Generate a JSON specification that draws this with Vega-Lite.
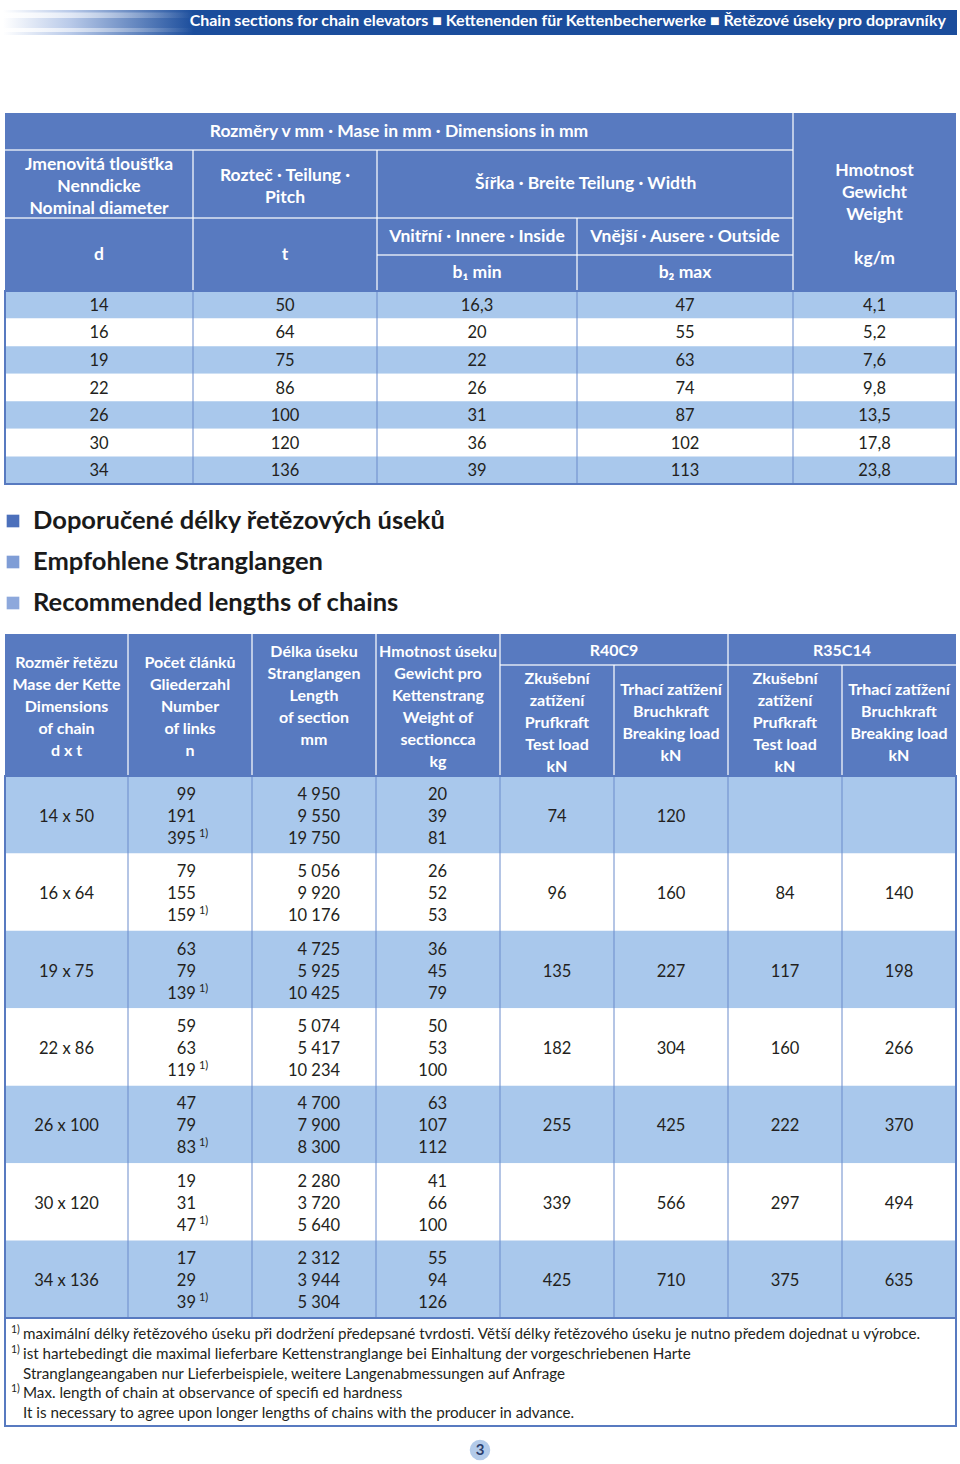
{
  "$schema": "https://vega.github.io/schema/vega-lite/v6.json",
  "padding": 0,
  "autosize": {"type": "pad"},
  "spacing": 0,
  "bounds": "flush",
  "background": "#ffffff",
  "config": {"view": {"stroke": null}, "axis": {"disable": true}, "legend": {"disable": true}, "font": "Lato"},
  "resolve": {"scale": {"x": "independent", "y": "independent", "color": "independent"}},
  "datasets": {
    "top": [
      {"d": "14", "t": "50", "b1": "16,3", "b2": "47", "kg": "4,1"},
      {"d": "16", "t": "64", "b1": "20", "b2": "55", "kg": "5,2"},
      {"d": "19", "t": "75", "b1": "22", "b2": "63", "kg": "7,6"},
      {"d": "22", "t": "86", "b1": "26", "b2": "74", "kg": "9,8"},
      {"d": "26", "t": "100", "b1": "31", "b2": "87", "kg": "13,5"},
      {"d": "30", "t": "120", "b1": "36", "b2": "102", "kg": "17,8"},
      {"d": "34", "t": "136", "b1": "39", "b2": "113", "kg": "23,8"}
    ],
    "topcols": [
      {"key": "d", "c": 0.5}, {"key": "t", "c": 1.5}, {"key": "b1", "c": 2.5}, {"key": "b2", "c": 3.5}, {"key": "kg", "c": 4.5}
    ],
    "topHead": [
      {"label": "Rozměry v mm ∙ Mase in mm ∙ Dimensions in mm", "cx": 2.11, "cy": 0.5},
      {"label": "Jmenovitá tloušťka\nNenndicke\nNominal diameter", "cx": 0.5, "cy": 1.22},
      {"label": "Rozteč ∙ Teilung ∙\nPitch", "cx": 1.5, "cy": 1.38},
      {"label": "Šířka ∙ Breite Teilung ∙ Width", "cx": 3.04, "cy": 1.5},
      {"label": "Hmotnost\nGewicht\nWeight", "cx": 4.5, "cy": 1.309},
      {"label": "kg/m", "cx": 4.5, "cy": 3.11},
      {"label": "d", "cx": 0.5, "cy": 3},
      {"label": "t", "cx": 1.5, "cy": 3},
      {"label": "Vnitřní ∙ Innere ∙ Inside", "cx": 2.5, "cy": 2.5},
      {"label": "Vnější ∙ Ausere ∙ Outside", "cx": 3.5, "cy": 2.5},
      {"label": "b₁ min", "cx": 2.5, "cy": 3.5},
      {"label": "b₂ max", "cx": 3.5, "cy": 3.5}
    ],
    "topHeadH": [{"c0": 0, "c1": 4, "r": 1}, {"c0": 0, "c1": 4, "r": 2}, {"c0": 2, "c1": 4, "r": 3}],
    "topHeadV": [{"c": 1, "r0": 1, "r1": 4}, {"c": 2, "r0": 1, "r1": 4}, {"c": 3, "r0": 2, "r1": 4}, {"c": 4, "r0": 0, "r1": 4}],
    "headings": [
      {"i": 1, "t": "Doporučené délky řetězových úseků"},
      {"i": 2, "t": "Empfohlene Stranglangen"},
      {"i": 3, "t": "Recommended lengths of chains"}
    ],
    "botHead": [
      {"label": "Rozměr řetězu\nMase der Kette\nDimensions\nof chain\nd x t", "cx": 0.5, "cy": 0.935},
      {"label": "Počet článků\nGliederzahl\nNumber\nof links\nn", "cx": 1.5, "cy": 0.935},
      {"label": "Délka úseku\nStranglangen\nLength\nof section\nmm", "cx": 2.5, "cy": 0.581},
      {"label": "Hmotnost úseku\nGewicht pro\nKettenstrang\nWeight of\nsectioncca\nkg", "cx": 3.5, "cy": 0.581},
      {"label": "R40C9", "cx": 5, "cy": 0.548},
      {"label": "R35C14", "cx": 7, "cy": 0.548},
      {"label": "Zkušební\nzatížení\nPrufkraft\nTest load\nkN", "cx": 4.5, "cy": 1.126},
      {"label": "Trhací zatížení\nBruchkraft\nBreaking load\nkN", "cx": 5.5, "cy": 1.225},
      {"label": "Zkušební\nzatížení\nPrufkraft\nTest load\nkN", "cx": 6.5, "cy": 1.126},
      {"label": "Trhací zatížení\nBruchkraft\nBreaking load\nkN", "cx": 7.5, "cy": 1.225}
    ],
    "botHeadH": [{"c0": 4, "c1": 8, "r": 1}],
    "botHeadV": [
      {"c": 1, "r0": 0, "r1": 2}, {"c": 2, "r0": 0, "r1": 2}, {"c": 3, "r0": 0, "r1": 2}, {"c": 4, "r0": 0, "r1": 2},
      {"c": 6, "r0": 0, "r1": 2}, {"c": 5, "r0": 1, "r1": 2}, {"c": 7, "r0": 1, "r1": 2}
    ],
    "chains": [
      {"chain": "14 x 50", "tl40": "74", "bl40": "120", "tl35": "", "bl35": ""},
      {"chain": "16 x 64", "tl40": "96", "bl40": "160", "tl35": "84", "bl35": "140"},
      {"chain": "19 x 75", "tl40": "135", "bl40": "227", "tl35": "117", "bl35": "198"},
      {"chain": "22 x 86", "tl40": "182", "bl40": "304", "tl35": "160", "bl35": "266"},
      {"chain": "26 x 100", "tl40": "255", "bl40": "425", "tl35": "222", "bl35": "370"},
      {"chain": "30 x 120", "tl40": "339", "bl40": "566", "tl35": "297", "bl35": "494"},
      {"chain": "34 x 136", "tl40": "425", "bl40": "710", "tl35": "375", "bl35": "635"}
    ],
    "lines": [
      {"chain": "14 x 50", "line": 1, "n": "99", "len": "4 950", "kg": "20"},
      {"chain": "14 x 50", "line": 2, "n": "191", "len": "9 550", "kg": "39"},
      {"chain": "14 x 50", "line": 3, "n": "395", "len": "19 750", "kg": "81", "note": "1)"},
      {"chain": "16 x 64", "line": 1, "n": "79", "len": "5 056", "kg": "26"},
      {"chain": "16 x 64", "line": 2, "n": "155", "len": "9 920", "kg": "52"},
      {"chain": "16 x 64", "line": 3, "n": "159", "len": "10 176", "kg": "53", "note": "1)"},
      {"chain": "19 x 75", "line": 1, "n": "63", "len": "4 725", "kg": "36"},
      {"chain": "19 x 75", "line": 2, "n": "79", "len": "5 925", "kg": "45"},
      {"chain": "19 x 75", "line": 3, "n": "139", "len": "10 425", "kg": "79", "note": "1)"},
      {"chain": "22 x 86", "line": 1, "n": "59", "len": "5 074", "kg": "50"},
      {"chain": "22 x 86", "line": 2, "n": "63", "len": "5 417", "kg": "53"},
      {"chain": "22 x 86", "line": 3, "n": "119", "len": "10 234", "kg": "100", "note": "1)"},
      {"chain": "26 x 100", "line": 1, "n": "47", "len": "4 700", "kg": "63"},
      {"chain": "26 x 100", "line": 2, "n": "79", "len": "7 900", "kg": "107"},
      {"chain": "26 x 100", "line": 3, "n": "83", "len": "8 300", "kg": "112", "note": "1)"},
      {"chain": "30 x 120", "line": 1, "n": "19", "len": "2 280", "kg": "41"},
      {"chain": "30 x 120", "line": 2, "n": "31", "len": "3 720", "kg": "66"},
      {"chain": "30 x 120", "line": 3, "n": "47", "len": "5 640", "kg": "100", "note": "1)"},
      {"chain": "34 x 136", "line": 1, "n": "17", "len": "2 312", "kg": "55"},
      {"chain": "34 x 136", "line": 2, "n": "29", "len": "3 944", "kg": "94"},
      {"chain": "34 x 136", "line": 3, "n": "39", "len": "5 304", "kg": "126", "note": "1)"}
    ],
    "botcols": [
      {"key": "n", "c": 1.548}, {"key": "len", "c": 2.71}, {"key": "kg", "c": 3.573},
      {"key": "tl40", "c": 4.5}, {"key": "bl40", "c": 5.5}, {"key": "tl35", "c": 6.5}, {"key": "bl35", "c": 7.5}
    ],
    "notes": [
      {"i": 1, "note": "1)", "text": "maximální délky řetězového úseku při dodržení předepsané tvrdosti. Větší délky řetězového úseku je nutno předem dojednat u výrobce."},
      {"i": 2, "note": "1)", "text": "ist hartebedingt die maximal lieferbare Kettenstranglange bei Einhaltung der vorgeschriebenen Harte"},
      {"i": 3, "text": "Stranglangeangaben nur Lieferbeispiele, weitere Langenabmessungen auf Anfrage"},
      {"i": 4, "note": "1)", "text": "Max. length of chain at observance of specifi ed hardness"},
      {"i": 5, "text": "It is necessary to agree upon longer lengths of chains with the producer in advance."}
    ]
  },
  "vconcat": [
    {
      "width": 960, "height": 113,
      "data": {"values": [{"title": "Chain sections for chain elevators ■ Kettenenden für Kettenbecherwerke ■ Řetězové úseky pro dopravníky"}]},
      "layer": [
        {"mark": {"type": "rect", "color": {"gradient": "linear", "x1": 0, "y1": 0, "x2": 1, "y2": 0, "stops": [{"offset": 0, "color": "#ffffff"}, {"offset": 0.07, "color": "#b9cae9"}, {"offset": 0.2, "color": "#1b4d9c"}, {"offset": 1, "color": "#1b4d9c"}]}},
         "encoding": {
           "x": {"datum": 0, "type": "quantitative", "scale": {"domain": [0, 1, 2], "range": [3, 946, 957], "nice": false, "zero": false}},
           "x2": {"datum": 2},
           "y": {"datum": 0, "type": "quantitative", "scale": {"domain": [0, 1, 2, 3, 4, 5, 6], "range": [10, 12.5, 18, 21, 28, 32, 35], "nice": false, "zero": false}},
           "y2": {"datum": 6}}},
        {"mark": {"type": "rect", "color": {"gradient": "linear", "x1": 0, "y1": 0, "x2": 1, "y2": 0, "stops": [{"offset": 0, "color": "rgba(255,255,255,0.9)"}, {"offset": 0.2, "color": "rgba(255,255,255,0)"}, {"offset": 1, "color": "rgba(255,255,255,0)"}]}},
         "encoding": {"x": {"datum": 0, "type": "quantitative"}, "x2": {"datum": 2}, "y": {"datum": 1, "type": "quantitative"}, "y2": {"datum": 2}}},
        {"mark": {"type": "rect", "color": {"gradient": "linear", "x1": 0, "y1": 0, "x2": 1, "y2": 0, "stops": [{"offset": 0, "color": "rgba(255,255,255,0.9)"}, {"offset": 0.2, "color": "rgba(255,255,255,0)"}, {"offset": 1, "color": "rgba(255,255,255,0)"}]}},
         "encoding": {"x": {"datum": 0, "type": "quantitative"}, "x2": {"datum": 2}, "y": {"datum": 4, "type": "quantitative"}, "y2": {"datum": 5}}},
        {"mark": {"type": "text", "color": "#ffffff", "fontSize": 16, "fontWeight": "bold", "align": "right", "baseline": "middle"},
         "encoding": {"x": {"datum": 1, "type": "quantitative"}, "y": {"datum": 3, "type": "quantitative"}, "text": {"field": "title"}}}
      ]
    },
    {
      "width": 960, "height": 178,
      "layer": [
        {"data": {"values": [{}]}, "mark": {"type": "rect", "color": "#587ac0"},
         "encoding": {
           "x": {"datum": 0, "type": "quantitative", "scale": {"domain": [0, 1, 2, 3, 4, 5], "range": [5, 193, 377, 577, 793, 956], "nice": false, "zero": false}},
           "x2": {"datum": 5},
           "y": {"datum": 0, "type": "quantitative", "scale": {"domain": [0, 1, 2, 3, 4], "range": [0, 37, 105, 142, 178], "nice": false, "zero": false}},
           "y2": {"datum": 4}}},
        {"data": {"name": "topHeadH"}, "mark": {"type": "rule", "color": "#ffffff", "strokeWidth": 1.5, "opacity": 0.8},
         "encoding": {"x": {"field": "c0", "type": "quantitative"}, "x2": {"field": "c1"}, "y": {"field": "r", "type": "quantitative"}}},
        {"data": {"name": "topHeadV"}, "mark": {"type": "rule", "color": "#ffffff", "strokeWidth": 1.5, "opacity": 0.8},
         "encoding": {"x": {"field": "c", "type": "quantitative"}, "y": {"field": "r0", "type": "quantitative"}, "y2": {"field": "r1"}}},
        {"data": {"name": "topHead"}, "mark": {"type": "text", "color": "#ffffff", "fontSize": 17.5, "fontWeight": "bold", "lineBreak": "\n", "lineHeight": 22, "align": "center", "baseline": "middle"},
         "encoding": {"x": {"field": "cx", "type": "quantitative"}, "y": {"field": "cy", "type": "quantitative"}, "text": {"field": "label"}}}
      ]
    },
    {
      "width": 960, "height": 193,
      "data": {"name": "top"},
      "layer": [
        {"mark": {"type": "rect"},
         "encoding": {
           "x": {"datum": 0, "type": "quantitative", "scale": {"domain": [0, 1, 2, 3, 4, 5], "range": [5, 193, 377, 577, 793, 956], "nice": false, "zero": false}},
           "x2": {"datum": 5},
           "y": {"field": "d", "type": "ordinal", "scale": {"paddingInner": 0, "paddingOuter": 0}},
           "color": {"field": "d", "type": "ordinal", "legend": null, "scale": {"domain": ["14", "16", "19", "22", "26", "30", "34"], "range": ["#a9c8ec", "#ffffff", "#a9c8ec", "#ffffff", "#a9c8ec", "#ffffff", "#a9c8ec"]}}}},
        {"data": {"values": [{}]}, "mark": {"type": "rule", "color": "#6a8bcb", "strokeWidth": 1}, "encoding": {"x": {"datum": 1, "type": "quantitative"}}},
        {"data": {"values": [{}]}, "mark": {"type": "rule", "color": "#6a8bcb", "strokeWidth": 1}, "encoding": {"x": {"datum": 2, "type": "quantitative"}}},
        {"data": {"values": [{}]}, "mark": {"type": "rule", "color": "#6a8bcb", "strokeWidth": 1}, "encoding": {"x": {"datum": 3, "type": "quantitative"}}},
        {"data": {"values": [{}]}, "mark": {"type": "rule", "color": "#6a8bcb", "strokeWidth": 1}, "encoding": {"x": {"datum": 4, "type": "quantitative"}}},
        {"data": {"values": [{}]}, "mark": {"type": "rect", "filled": false, "color": "#587ac0", "strokeWidth": 2}, "encoding": {"x": {"datum": 0, "type": "quantitative"}, "x2": {"datum": 5}}},
        {"transform": [{"fold": ["d", "t", "b1", "b2", "kg"]}, {"lookup": "key", "from": {"data": {"name": "topcols"}, "key": "key", "fields": ["c"]}}],
         "mark": {"type": "text", "fontSize": 16.5, "color": "#231f20", "align": "center", "baseline": "middle", "dy": 1},
         "encoding": {"x": {"field": "c", "type": "quantitative"}, "y": {"field": "d", "type": "ordinal"}, "text": {"field": "value"}}}
      ]
    },
    {
      "width": 960, "height": 150,
      "data": {"name": "headings"},
      "layer": [
        {"mark": {"type": "point", "shape": "square", "filled": true, "size": 160, "opacity": 1},
         "encoding": {
           "x": {"datum": 0, "type": "quantitative", "scale": {"domain": [0, 1], "range": [13, 33], "nice": false, "zero": false}},
           "y": {"field": "i", "type": "quantitative", "scale": {"domain": [1, 3], "range": [37, 119], "nice": false, "zero": false}},
           "color": {"field": "i", "type": "ordinal", "legend": null, "scale": {"domain": [1, 2, 3], "range": ["#4c70bb", "#7f9dd6", "#8da8dc"]}}}},
        {"mark": {"type": "text", "fontSize": 25.5, "fontWeight": "bold", "color": "#1a1a1a", "align": "left", "baseline": "middle"},
         "encoding": {"x": {"datum": 1, "type": "quantitative"}, "y": {"field": "i", "type": "quantitative"}, "text": {"field": "t"}}}
      ]
    },
    {
      "width": 960, "height": 142,
      "layer": [
        {"data": {"values": [{}]}, "mark": {"type": "rect", "color": "#587ac0"},
         "encoding": {
           "x": {"datum": 0, "type": "quantitative", "scale": {"domain": [0, 1, 2, 3, 4, 5, 6, 7, 8], "range": [5, 128, 252, 376, 500, 614, 728, 842, 956], "nice": false, "zero": false}},
           "x2": {"datum": 8},
           "y": {"datum": 0, "type": "quantitative", "scale": {"domain": [0, 1, 2], "range": [0, 31, 142], "nice": false, "zero": false}},
           "y2": {"datum": 2}}},
        {"data": {"name": "botHeadH"}, "mark": {"type": "rule", "color": "#ffffff", "strokeWidth": 1.5, "opacity": 0.8},
         "encoding": {"x": {"field": "c0", "type": "quantitative"}, "x2": {"field": "c1"}, "y": {"field": "r", "type": "quantitative"}}},
        {"data": {"name": "botHeadV"}, "mark": {"type": "rule", "color": "#ffffff", "strokeWidth": 1.5, "opacity": 0.8},
         "encoding": {"x": {"field": "c", "type": "quantitative"}, "y": {"field": "r0", "type": "quantitative"}, "y2": {"field": "r1"}}},
        {"data": {"name": "botHead"}, "mark": {"type": "text", "color": "#ffffff", "fontSize": 16, "fontWeight": "bold", "lineBreak": "\n", "lineHeight": 22, "align": "center", "baseline": "middle"},
         "encoding": {"x": {"field": "cx", "type": "quantitative"}, "y": {"field": "cy", "type": "quantitative"}, "text": {"field": "label"}}}
      ]
    },
    {
      "width": 960, "height": 542,
      "data": {"name": "chains"},
      "layer": [
        {"mark": {"type": "rect"},
         "encoding": {
           "x": {"datum": 0, "type": "quantitative", "scale": {"domain": [0, 1, 2, 3, 4, 5, 6, 7, 8], "range": [5, 128, 252, 376, 500, 614, 728, 842, 956], "nice": false, "zero": false}},
           "x2": {"datum": 8},
           "y": {"field": "chain", "type": "ordinal", "scale": {"paddingInner": 0, "paddingOuter": 0}},
           "color": {"field": "chain", "type": "ordinal", "legend": null, "scale": {"domain": ["14 x 50", "16 x 64", "19 x 75", "22 x 86", "26 x 100", "30 x 120", "34 x 136"], "range": ["#a9c8ec", "#ffffff", "#a9c8ec", "#ffffff", "#a9c8ec", "#ffffff", "#a9c8ec"]}}}},
        {"data": {"values": [{}]}, "mark": {"type": "rule", "color": "#6a8bcb", "strokeWidth": 1}, "encoding": {"x": {"datum": 1, "type": "quantitative"}}},
        {"data": {"values": [{}]}, "mark": {"type": "rule", "color": "#6a8bcb", "strokeWidth": 1}, "encoding": {"x": {"datum": 2, "type": "quantitative"}}},
        {"data": {"values": [{}]}, "mark": {"type": "rule", "color": "#6a8bcb", "strokeWidth": 1}, "encoding": {"x": {"datum": 3, "type": "quantitative"}}},
        {"data": {"values": [{}]}, "mark": {"type": "rule", "color": "#6a8bcb", "strokeWidth": 1}, "encoding": {"x": {"datum": 4, "type": "quantitative"}}},
        {"data": {"values": [{}]}, "mark": {"type": "rule", "color": "#6a8bcb", "strokeWidth": 1}, "encoding": {"x": {"datum": 5, "type": "quantitative"}}},
        {"data": {"values": [{}]}, "mark": {"type": "rule", "color": "#6a8bcb", "strokeWidth": 1}, "encoding": {"x": {"datum": 6, "type": "quantitative"}}},
        {"data": {"values": [{}]}, "mark": {"type": "rule", "color": "#6a8bcb", "strokeWidth": 1}, "encoding": {"x": {"datum": 7, "type": "quantitative"}}},
        {"data": {"values": [{}]}, "mark": {"type": "rect", "filled": false, "color": "#587ac0", "strokeWidth": 2}, "encoding": {"x": {"datum": 0, "type": "quantitative"}, "x2": {"datum": 8}}},
        {"mark": {"type": "text", "fontSize": 16.5, "color": "#231f20", "align": "center", "baseline": "middle", "dy": 2},
         "encoding": {"x": {"datum": 0.5, "type": "quantitative"}, "y": {"field": "chain", "type": "ordinal"}, "text": {"field": "chain"}}},
        {"transform": [{"fold": ["tl40", "bl40", "tl35", "bl35"]}, {"lookup": "key", "from": {"data": {"name": "botcols"}, "key": "key", "fields": ["c"]}}],
         "mark": {"type": "text", "fontSize": 16.5, "color": "#231f20", "align": "center", "baseline": "middle", "dy": 2},
         "encoding": {"x": {"field": "c", "type": "quantitative"}, "y": {"field": "chain", "type": "ordinal"}, "text": {"field": "value"}}},
        {"data": {"name": "lines"}, "transform": [{"filter": "datum.line == 1"}, {"fold": ["n", "len", "kg"]}, {"lookup": "key", "from": {"data": {"name": "botcols"}, "key": "key", "fields": ["c"]}}],
         "mark": {"type": "text", "fontSize": 16.5, "color": "#231f20", "align": "right", "baseline": "middle", "dy": -20},
         "encoding": {"x": {"field": "c", "type": "quantitative"}, "y": {"field": "chain", "type": "ordinal"}, "text": {"field": "value"}}},
        {"data": {"name": "lines"}, "transform": [{"filter": "datum.line == 2"}, {"fold": ["n", "len", "kg"]}, {"lookup": "key", "from": {"data": {"name": "botcols"}, "key": "key", "fields": ["c"]}}],
         "mark": {"type": "text", "fontSize": 16.5, "color": "#231f20", "align": "right", "baseline": "middle", "dy": 2},
         "encoding": {"x": {"field": "c", "type": "quantitative"}, "y": {"field": "chain", "type": "ordinal"}, "text": {"field": "value"}}},
        {"data": {"name": "lines"}, "transform": [{"filter": "datum.line == 3"}, {"fold": ["n", "len", "kg"]}, {"lookup": "key", "from": {"data": {"name": "botcols"}, "key": "key", "fields": ["c"]}}],
         "mark": {"type": "text", "fontSize": 16.5, "color": "#231f20", "align": "right", "baseline": "middle", "dy": 24},
         "encoding": {"x": {"field": "c", "type": "quantitative"}, "y": {"field": "chain", "type": "ordinal"}, "text": {"field": "value"}}},
        {"data": {"name": "lines"}, "transform": [{"filter": "datum.note"}],
         "mark": {"type": "text", "fontSize": 11, "color": "#231f20", "align": "left", "baseline": "middle", "dx": 3, "dy": 19},
         "encoding": {"x": {"datum": 1.548, "type": "quantitative"}, "y": {"field": "chain", "type": "ordinal"}, "text": {"field": "note"}}}
      ]
    },
    {
      "width": 960, "height": 108,
      "data": {"name": "notes"},
      "layer": [
        {"data": {"values": [{}]}, "mark": {"type": "rect", "filled": false, "color": "#587ac0", "strokeWidth": 2},
         "encoding": {"x": {"datum": 0, "type": "quantitative", "scale": {"domain": [0, 1, 2, 3], "range": [5, 11, 23, 956], "nice": false, "zero": false}}, "x2": {"datum": 3}}},
        {"mark": {"type": "text", "fontSize": 15.2, "color": "#231f20", "align": "left", "baseline": "middle"},
         "encoding": {"x": {"datum": 2, "type": "quantitative"}, "y": {"field": "i", "type": "quantitative", "scale": {"domain": [1, 5], "range": [16, 95], "nice": false, "zero": false}}, "text": {"field": "text"}}},
        {"transform": [{"filter": "datum.note"}],
         "mark": {"type": "text", "fontSize": 10.5, "color": "#231f20", "align": "left", "baseline": "middle", "dy": -4},
         "encoding": {"x": {"datum": 1, "type": "quantitative"}, "y": {"field": "i", "type": "quantitative"}, "text": {"field": "note"}}}
      ]
    },
    {
      "width": 960, "height": 38,
      "data": {"values": [{"page": "3"}]},
      "layer": [
        {"mark": {"type": "point", "shape": "circle", "filled": true, "size": 420, "color": "#b3cbea", "opacity": 1},
         "encoding": {
           "x": {"datum": 0.5, "type": "quantitative", "scale": {"domain": [0, 1], "range": [0, 960], "nice": false, "zero": false}},
           "y": {"datum": 0.5, "type": "quantitative", "scale": {"domain": [0, 1], "range": [0, 48], "nice": false, "zero": false}}}},
        {"mark": {"type": "text", "fontSize": 15, "fontWeight": "bold", "color": "#2c3f6e", "align": "center", "baseline": "middle"},
         "encoding": {"x": {"datum": 0.5, "type": "quantitative"}, "y": {"datum": 0.5, "type": "quantitative"}, "text": {"field": "page"}}}
      ]
    }
  ]
}
